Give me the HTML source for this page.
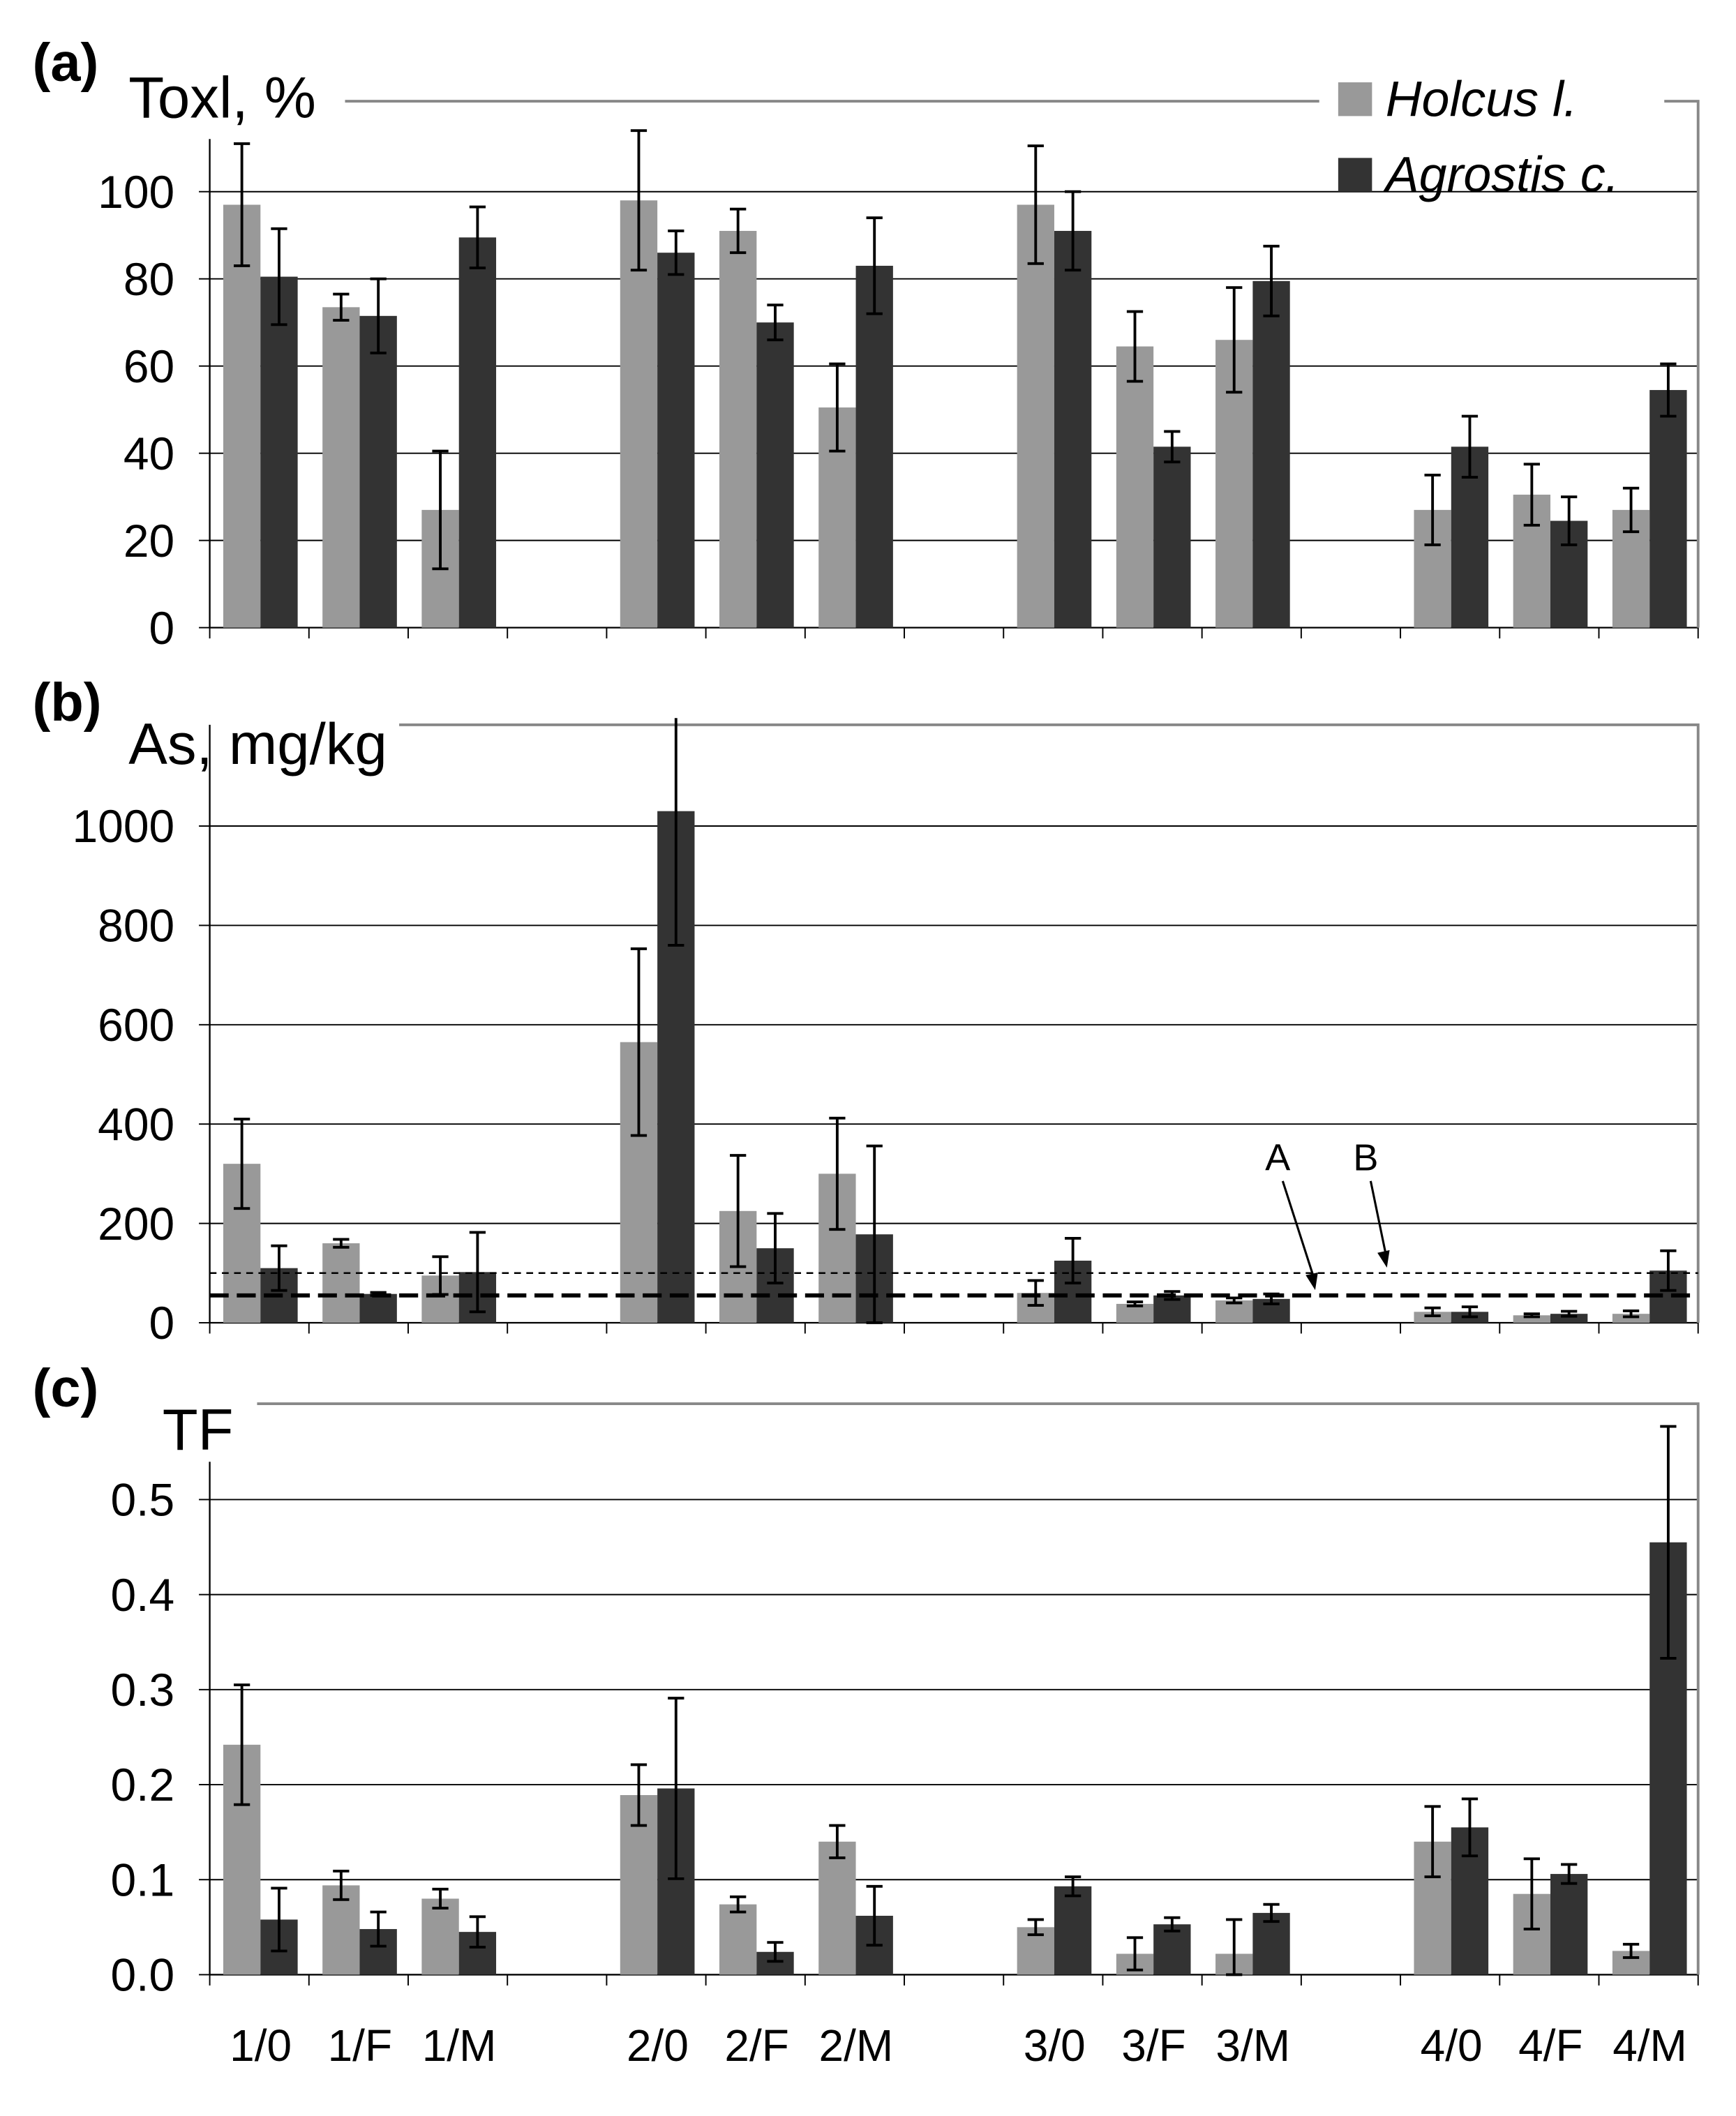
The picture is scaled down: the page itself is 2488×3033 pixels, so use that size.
<!DOCTYPE html>
<html><head><meta charset="utf-8"><style>
html,body{margin:0;padding:0;background:#fff}
svg{display:block}
text{font-family:"Liberation Sans",Arial,sans-serif;fill:#000}
</style></head><body>
<svg id="chart" width="2488" height="3033" viewBox="0 0 1283 1567.7" preserveAspectRatio="none" xmlns="http://www.w3.org/2000/svg">
<g id="root"></g>
</svg>
<script>
const categories = ["1/0","1/F","1/M","","2/0","2/F","2/M","","3/0","3/F","3/M","","4/0","4/F","4/M"];
const toxHolcus = [97,73.5,27,null,98,91,50.5,null,97,64.5,66,null,27,30.5,27];
const toxHolcusErr = [14,3,13.5,null,16,5,10,null,13.5,8,12,null,8,7,5];
const toxAgrostis = [80.5,71.5,89.5,null,86,70,83,null,91,41.5,79.5,null,41.5,24.5,54.5];
const toxAgrostisErr = [11,8.5,7,null,5,4,11,null,9,3.5,8,null,7,5.5,6];
const asHolcus = [320,160,95,null,565,225,300,null,60,38,45,null,22,15,18];
const asHolcusErr = [90,8,38,null,188,112,112,null,25,4,5,null,8,3,6];
const asAgrostis = [110,58,102,null,1030,150,178,null,125,55,48,null,22,18,105];
const asAgrostisErr = [45,3,80,null,270,70,178,null,45,8,10,null,10,5,40];
const tfHolcus = [0.242,0.094,0.080,null,0.189,0.074,0.140,null,0.050,0.022,0.022,null,0.140,0.085,0.025];
const tfHolcusErr = [0.063,0.015,0.010,null,0.032,0.008,0.017,null,0.008,0.017,0.036,null,0.037,0.037,0.007];
const tfAgrostis = [0.058,0.048,0.045,null,0.196,0.024,0.062,null,0.093,0.053,0.065,null,0.155,0.106,0.455];
const tfAgrostisErr = [0.033,0.018,0.016,null,0.095,0.010,0.031,null,0.010,0.007,0.009,null,0.030,0.010,0.122];
const toxTicks = [0,20,40,60,80,100];
const asTicks = [0,200,400,600,800,1000];
const tfTicks = ["0.0","0.1","0.2","0.3","0.4","0.5"];

const NS="http://www.w3.org/2000/svg";
const root=document.getElementById('root');
function mk(tag,attrs,parent){const e=document.createElementNS(NS,tag);for(const k in attrs)e.setAttribute(k,attrs[k]);(parent||root).appendChild(e);return e;}
const X0=155,X1=1255,slot=(X1-X0)/categories.length;
function xSlot(i){return X0+i*slot;}

function panel(p){
  const g=mk('g',{});
  
  
  const y=v=>p.zero-(v-p.min)*(p.zero-p.topY)/(p.topV-p.min);
  p.ticks.forEach((t,i)=>{
    const v=parseFloat(t), yy=y(v);
    if(v>p.min){const l=mk('line',{x1:X0,x2:X1,y1:yy,y2:yy,stroke:'#000','stroke-width':1},g);
      
      }
    mk('line',{x1:X0-8,x2:X0,y1:yy,y2:yy,stroke:'#000','stroke-width':1},g);
    const tx=mk('text',{x:129,y:yy+12,'text-anchor':'end','font-size':34},g);
    tx.textContent=t;
    
    
  });
  mk('line',{x1:X0,x2:X0,y1:p.axTop,y2:p.zero,stroke:'#000','stroke-width':1.2},g);
  mk('line',{x1:X0,x2:X1,y1:p.zero,y2:p.zero,stroke:'#000','stroke-width':1.2},g);
  if(p.frame) mk('polyline',{points:p.frame,fill:'none',stroke:'#888','stroke-width':2},g);
  for(let i=0;i<=categories.length;i++){mk('line',{x1:xSlot(i),x2:xSlot(i),y1:p.zero,y2:p.zero+8,stroke:'#000','stroke-width':1},g);}
  const series=[[p.h,p.he,'#999999','holcus'],[p.a,p.ae,'#333333','agrostis']];
  series.forEach((s,si)=>{
    s[0].forEach((v,i)=>{
      if(v===null)return;
      const bx=xSlot(i)+10+si*27.5, yt=y(v);
      const r=mk('rect',{x:bx,y:yt,width:27.5,height:p.zero-yt,fill:s[2]},g);
      
      
      const e=s[1][i],cx=bx+13.75;
      const yh=Math.max(y(v+e),p.clipTop),yl=Math.min(y(v-e),p.zero);
      const eb=mk('path',{d:`M${cx},${yh}V${yl}M${cx-6},${yl}H${cx+6}`+(y(v+e)>=p.clipTop?`M${cx-6},${yh}H${cx+6}`:''),stroke:'#000','stroke-width':2,fill:'none'},g);
      
      
    });
  });
  const pl=mk('text',{x:24,y:p.labY,'font-size':40,'font-weight':'bold'},g);pl.textContent=p.label;
  
  
  const yt=mk('text',{x:p.titleX,y:p.titleY,'font-size':43},g);yt.textContent=p.title;
  
  
  return {g,y};
}
panel({name:'toxicity',ticks:toxTicks.map(String),min:0,topV:100,zero:465,topY:142,axTop:103,clipTop:0,
  frame:null,h:toxHolcus,he:toxHolcusErr,a:toxAgrostis,ae:toxAgrostisErr,label:'(a)',labY:60,title:'Toxl, %',titleX:95,titleY:87});
mk('polyline',{points:"255,75 975,75",fill:'none',stroke:'#888','stroke-width':2});
mk('polyline',{points:"1230,75 1255,75 1255,465",fill:'none',stroke:'#888','stroke-width':2});
const pb=panel({name:'arsenic',ticks:asTicks.map(String),min:0,topV:1000,zero:980,topY:612,axTop:537,clipTop:532,
  frame:"295,537 1255,537 1255,980",h:asHolcus,he:asHolcusErr,a:asAgrostis,ae:asAgrostisErr,label:'(b)',labY:534,title:'As, mg/kg',titleX:95,titleY:566});
const thrB=100, thrA=55;
const lb=mk('line',{x1:X0,x2:X1,y1:pb.y(thrB),y2:pb.y(thrB),stroke:'#000','stroke-width':1.3,'stroke-dasharray':'5,4'});


const la=mk('line',{x1:X0,x2:X1,y1:pb.y(thrA),y2:pb.y(thrA),stroke:'#000','stroke-width':3,'stroke-dasharray':'14,6'});


[['A',945,972,pb.y(thrA)-4],['B',1010,1025,pb.y(thrB)-4]].forEach(a=>{
  const t=mk('text',{x:a[1]-10,y:867,'font-size':28});t.textContent=a[0];
  
  
  mk('line',{x1:a[1]+3,y1:875,x2:a[2],y2:a[3]-6,stroke:'#000','stroke-width':1.6});
  mk('path',{d:`M${a[2]},${a[3]} l-7,-11 l9,-2 z`,fill:'#000'});
});
panel({name:'tf',ticks:tfTicks,min:0,topV:0.5,zero:1463,topY:1111,axTop:1083,clipTop:0,
  frame:"190,1040 1255,1040 1255,1463",h:tfHolcus,he:tfHolcusErr,a:tfAgrostis,ae:tfAgrostisErr,label:'(c)',labY:1042,title:'TF',titleX:120,titleY:1074});
categories.forEach((c,i)=>{if(!c)return;
  const t=mk('text',{x:xSlot(i)+slot/2+1,y:1527,'text-anchor':'middle','font-size':33});t.textContent=c;
  
  });
const lg=mk('g',{});


mk('rect',{x:989,y:61,width:25,height:25,fill:'#999'},lg);
const l1=mk('text',{x:1024,y:86,'font-size':37,'font-style':'italic'},lg);l1.textContent='Holcus l.';
mk('rect',{x:989,y:117,width:25,height:25,fill:'#333'},lg);
const l2=mk('text',{x:1024,y:142,'font-size':37,'font-style':'italic'},lg);l2.textContent='Agrostis c.';
</script>
</body></html>
